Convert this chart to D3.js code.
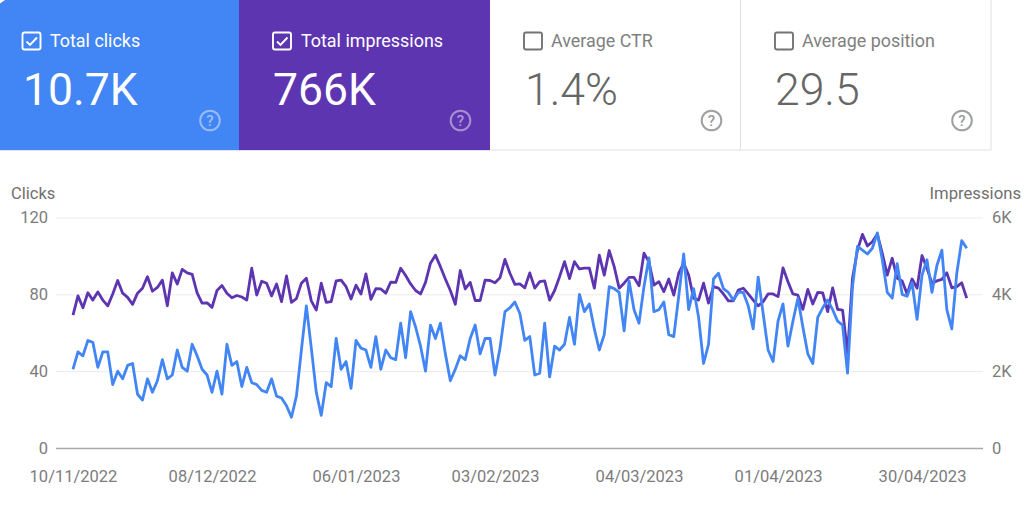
<!DOCTYPE html>
<html><head><meta charset="utf-8">
<script src="https://cdnjs.cloudflare.com/ajax/libs/d3/7.8.5/d3.min.js"></script>
<style>html,body{margin:0;padding:0;background:#fff}svg{display:block}text{font-family:Roboto,sans-serif}</style>
</head><body><svg id="c" width="1024" height="507"></svg>
<script>
const cardTitles=["Total clicks","Total impressions","Average CTR","Average position"];
const cardValues=["10.7K","766K","1.4%","29.5"];
const cardChecked=[true,true,false,false];
const startDate="2022-11-10";
const tickDates=["2022-11-10","2022-12-08","2023-01-06","2023-02-03","2023-03-04","2023-04-01","2023-04-30"];
const tickLabels=["10/11/2022","08/12/2022","06/01/2023","03/02/2023","04/03/2023","01/04/2023","30/04/2023"];
const clickTicks=[0,40,80,120];
const imprTicks=[0,2000,4000,6000];
const imprTickLabels=["0","2K","4K","6K"];
const clicks=[41,50,48,56,55,42,50,50,33,40,
36,43,44,28,25,36,29,35,46,36,
38,51,42,40,54,48,41,38,29,40,
28,54,43,45,32,42,34,33,30,29,
36,27,26,22,16,27,51,74,52,29,
17,34,32,57,41,45,31,
56,52,51,42,58,41,51,47,46,65,47,71,63,53,40,64,57,65,49,35,41,48,46,57,64,49,57,57,38,52,71,73,76,70,56,58,38,39,65,37,53,51,54,68,54,80,71,75,62,51,59,84,83,81,61,87,72,65,84,99,
71,72,76,59,58,79,101,72,83,68,44,54,88,91,83,81,77,81,81,74,62,89,70,51,45,66,75,53,66,78,63,49,44,68,73,77,72,66,64,39,84,105,103,101,104,112,98,81,78,96,80,79,86,67,90,98,81,95,103,72,62,91,108,104];
const impressions=[3460,3960,3650,4040,3850,4060,3850,3700,4010,4360,
4030,3920,3740,4030,4160,4460,4080,4180,4370,3700,
4560,4270,4650,4560,4520,4040,3770,3780,3660,4100,
4230,4030,3910,3970,3930,3850,4680,3980,4340,4290,
3960,4270,3810,4480,3790,3890,4290,4420,3830,3590,
4290,3790,3810,4350,4370,4200,3880,
4240,4010,4530,3870,4150,4140,4030,4320,4310,4680,4490,4270,4100,4010,4310,4810,5020,4720,4400,4100,3740,4620,4140,4310,3840,3840,4370,4360,4300,4430,4910,4550,4260,4270,4170,4560,4160,4330,4350,3850,4100,4460,4850,4410,4850,4660,4680,4680,4160,5020,4500,5140,4720,4160,4290,4440,4440,4220,5070,4850,
4240,4330,4070,4400,3980,4550,4810,4500,3900,3850,4290,3770,4200,4160,4010,3830,3830,4110,4160,4010,3850,3700,3810,4010,4010,3940,4690,4330,4010,3980,3610,4130,3750,4050,4040,3550,4170,3610,3590,2470,4420,5150,5560,5260,5370,5570,5070,4500,4940,4420,4350,4010,4400,4160,5010,4680,4290,4350,4390,4560,4170,4200,4300,3900];

const svg=d3.select("#c");
const parse=d3.utcParse("%Y-%m-%d");
const t0=parse(startDate);
const dates=clicks.map((_,i)=>d3.utcDay.offset(t0,i));
const x=d3.scaleUtc().domain([t0,dates[dates.length-1]]).range([73,966.7]);
const yL=d3.scaleLinear().domain([0,120]).range([448,217.5]);
const yR=d3.scaleLinear().domain([0,6000]).range([448,217.5]);

// cards
const cardX=[0,239,490,740,991];
const cardFill=["#4285f4","#5e35b1","#fff","#fff"];
const boxX=[22.5,34,34,35];
const labelX=[50,62,61,62];
const valueX=[23,34,35,35];
const helpX=[210,221.5,221.5,222];
const cards=svg.selectAll("g.card").data(cardTitles).join("g").attr("class","card");
cards.append("rect").attr("x",(d,i)=>cardX[i]).attr("y",0).attr("width",(d,i)=>cardX[i+1]-cardX[i]).attr("height",150).attr("fill",(d,i)=>cardFill[i]);
svg.append("path").attr("d","M0,0H5L0,3.5Z").attr("fill","#fff");
svg.append("path").attr("d","M490.5,150H991V0M740.5,0V150").attr("fill","none").attr("stroke","#dfe0e3");
svg.append("path").attr("d","M0,150.5H490").attr("fill","none").attr("stroke","#e3e1f0");
cards.each(function(d,i){
  const g=d3.select(this),ox=cardX[i],on=i<2,col=on?"#fff":"#757575";
  const bx=ox+boxX[i];
  g.append("rect").attr("x",bx).attr("y",32.5).attr("width",18).attr("height",17).attr("rx",2).attr("fill","none").attr("stroke",col).attr("stroke-width",1.9);
  if(cardChecked[i]) g.append("path").attr("d",`M${bx+4},41.5l3.5,3.5l7,-7.5`).attr("fill","none").attr("stroke",col).attr("stroke-width",1.9);
  g.append("text").attr("x",ox+labelX[i]).attr("y",47).attr("font-size",17.9).attr("fill",on?"#fff":"#808080").text(d);
  g.append("text").attr("x",ox+valueX[i]).attr("y",105).attr("font-size",44.5).attr("font-weight",on?400:300).attr("fill",on?"#fff":"#666").text(cardValues[i]);
  const cx=ox+helpX[i];
  g.append("circle").attr("cx",cx).attr("cy",120.5).attr("r",9.8).attr("fill","none").attr("stroke",on?"rgba(255,255,255,.45)":"#a0a0a0").attr("stroke-width",2);
  g.append("text").attr("x",cx).attr("y",126).attr("text-anchor","middle").attr("font-size",15).attr("font-weight",500).attr("fill",on?"rgba(255,255,255,.5)":"#999").text("?");
});

// grid
const grid=svg.append("g");
grid.selectAll("line").data(clickTicks).join("line")
 .attr("x1",56).attr("x2",983).attr("y1",d=>yL(d)+.5).attr("y2",d=>yL(d)+.5)
 .attr("stroke",d=>d==0?"#a8a8a8":"#ebebeb").attr("stroke-width",d=>d==0?1.5:1);

// axes
const axL=svg.append("g").attr("transform","translate(48,0)").call(d3.axisLeft(yL).tickValues(clickTicks).tickSize(0).tickPadding(0));
const axR=svg.append("g").attr("transform","translate(992,0)").call(d3.axisRight(yR).tickValues(imprTicks).tickSize(0).tickPadding(0).tickFormat((d,i)=>imprTickLabels[i]));
const axB=svg.append("g").attr("transform","translate(0,448)").call(d3.axisBottom(x).tickValues(tickDates.map(parse)).tickSize(0).tickPadding(22).tickFormat((d,i)=>tickLabels[i]));
[axL,axR,axB].forEach(a=>{a.select(".domain").remove();a.selectAll("text").attr("font-size",16.5).attr("fill","#7c7c7c").style("font-family","Roboto,sans-serif");});
svg.append("text").attr("x",11).attr("y",199).attr("font-size",16.5).attr("fill","#6f6f6f").text("Clicks");
svg.append("text").attr("x",1021).attr("y",199).attr("text-anchor","end").attr("font-size",16.7).attr("fill","#6f6f6f").text("Impressions");

// lines
const lineI=d3.line().x((d,i)=>x(dates[i])).y(d=>yR(d));
const lineC=d3.line().x((d,i)=>x(dates[i])).y(d=>yL(d));
svg.append("path").attr("d",lineI(impressions)).attr("fill","none").attr("stroke","#5e35b1").attr("stroke-width",2.8).attr("stroke-linejoin","round");
svg.append("path").attr("d",lineC(clicks)).attr("fill","none").attr("stroke","#4285f4").attr("stroke-width",2.8).attr("stroke-linejoin","round");
</script></body></html>
